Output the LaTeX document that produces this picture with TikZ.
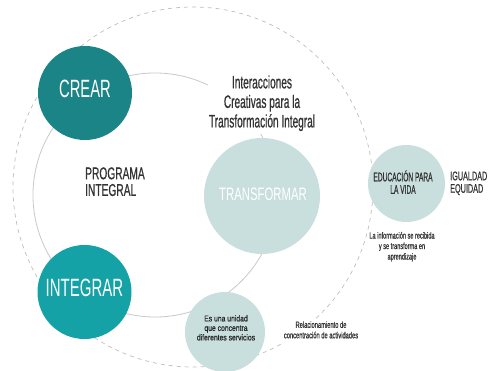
\documentclass[tikz,border=0pt]{standalone}
\usepackage{fontspec}
\setmainfont{Liberation Sans}
\newfontfamily\heavy[FakeBold=0.9]{Liberation Sans}
\usepackage{graphicx}
\definecolor{crear}{HTML}{1B8487}
\definecolor{integ}{HTML}{14A2A7}
\definecolor{light}{HTML}{C9DFDD}
\definecolor{ink}{HTML}{333333}
\definecolor{ringgray}{HTML}{C8C8C8}
\definecolor{dashgray}{HTML}{BDBDBD}
\newcommand\cb[5]{\scalebox{#1}[1]{\heavy\fontsize{#2}{#3}\selectfont\begin{tabular}{@{}#4@{}}#5\end{tabular}}}
\newcommand\cw[5]{\scalebox{#1}[1]{\fontsize{#2}{#3}\selectfont\begin{tabular}{@{}#4@{}}#5\end{tabular}}}
\tikzset{
  ball/.style={circle, inner sep=0pt, draw=none},
  ring/.style={circle, inner sep=0pt, draw=ringgray, line width=0.8pt},
  dring/.style={circle, inner sep=0pt, draw=dashgray, line width=0.7pt, dash pattern=on 4pt off 4pt},
  txt/.style={inner sep=0pt, text=ink},
  wtxt/.style={inner sep=1pt, text=white},
}
\begin{document}
\begin{tikzpicture}[x=1pt,y=-1pt]
\useasboundingbox (0,0) rectangle (493,371);
% rings
\node[dring, minimum size=360pt] (outer) at (193,187) {};
\node[ring, minimum size=244pt] (inner) at (155,195) {};
% text with white background over rings
\node[txt, fill=white, inner sep=1pt] (inter) at (262,104) {\cb{0.56}{18}{19.5}{c}{Interacciones\\Creativas para la\\Transformación Integral}};
\node[txt, fill=white, inner sep=1pt] (relac) at (321,331) {\cb{0.64}{9}{10.5}{c}{Relacionamiento de\\concentración de actividades}};
\node[txt] (info) at (402,247) {\cb{0.62}{9}{10.5}{c}{La información se recibida\\y se transforma en\\aprendizaje}};
\node[txt, anchor=west] (prog) at (85,184) {\cb{0.6}{17}{16}{l}{PROGRAMA\\INTEGRAL}};
\node[txt, anchor=west] (igual) at (450,184) {\cb{0.58}{12.5}{12.5}{l}{IGUALDAD\\EQUIDAD}};
% filled circles
\node[ball, fill=crear, minimum size=94pt] (crear) at (85,93) {};
\node[ball, fill=integ, minimum size=94pt] (integrar) at (84.5,292) {};
\node[ball, fill=light, minimum size=116pt] (transf) at (262,196) {};
\node[ball, fill=light, minimum size=80pt] (unidad) at (225,332) {};
\node[ball, fill=light, minimum size=77pt] (educ) at (406.5,183.5) {};
% labels in circles
\node[wtxt] at (crear) {\cw{0.59}{25}{25}{c}{CREAR}};
\node[wtxt] at (integrar) {\cw{0.6}{25}{25}{c}{INTEGRAR}};
\node[wtxt] at (263,196.5) {\cw{0.63}{18}{18}{c}{TRANSFORMAR}};
\node[txt] at (403,184) {\cb{0.53}{12.5}{12.5}{c}{EDUCACIÓN PARA\\LA VIDA}};
\node[txt, text=black!85] at (226,329) {\cb{0.8}{8.5}{9.5}{c}{Es una unidad\\que concentra\\diferentes servicios}};
\end{tikzpicture}
\end{document}
